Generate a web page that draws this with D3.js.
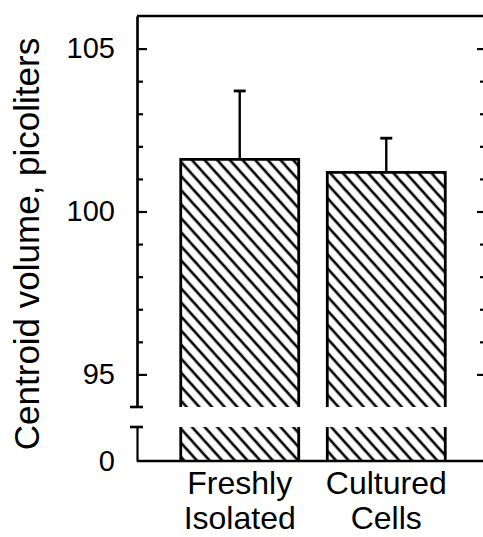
<!DOCTYPE html>
<html>
<head>
<meta charset="utf-8">
<script src="https://cdn.jsdelivr.net/npm/d3@7"></script>
<style>
  body { margin: 0; background: #fff; }
  svg { display: block; font-family: "Liberation Sans", Arial, Helvetica, sans-serif; }
  .axis path, .axis line { stroke: #000; stroke-width: 2.2; }
  .axis text { fill: #000; }
</style>
</head>
<body>
<svg id="chart" width="483" height="537"></svg>
<script>
// data
const groups = ["Freshly Isolated", "Cultured Cells"];
const groupLines = [["Freshly", "Isolated"], ["Cultured", "Cells"]];
const means = [101.6, 101.2];
const errors = [2.1, 1.05];
const majorTicks = [95, 100, 105];
const minorTicks = [96, 97, 98, 99, 101, 102, 103, 104];

const svg = d3.select("#chart");

// left axis sits at x=137, right one is just past the window edge
const axisX = 137, rightX = 486;
const topY = 16, breakTop = 407, breakBottom = 427, baseY = 461;

let x = d3.scaleBand()
    .domain(groups)
    .range([140, 486])
    .paddingInner(0.195)
    .paddingOuter(0.278);

// upper (broken) segment of the y axis
let y = d3.scaleLinear().domain([94, 106]).range([breakTop, topY]);
// lower segment, just the bit near zero
let y0 = d3.scaleLinear().domain([0, 1]).range([baseY, breakBottom]);

// hatch pattern
let defs = svg.append("defs");
let pat = defs.append("pattern")
    .attr("id", "hatch")
    .attr("patternUnits", "userSpaceOnUse")
    .attr("width", 9.4)
    .attr("height", 9.4)
    .attr("patternTransform", "rotate(48)");
pat.append("line")
    .attr("x1", 0).attr("y1", 2).attr("x2", 9.4).attr("y2", 2)
    .attr("stroke", "#000").attr("stroke-width", 2.6);

// bars, upper part
let bars = svg.append("g");
groups.forEach(function(g, i) {
    let x0 = x(g), w = x.bandwidth();
    let yt = y(means[i]);
    bars.append("rect")
        .attr("x", x0).attr("y", yt)
        .attr("width", w).attr("height", breakTop - yt)
        .attr("fill", "url(#hatch)");
    bars.append("path")
        .attr("d", `M${x0},${breakTop}V${yt}H${x0 + w}V${breakTop}`)
        .attr("fill", "none").attr("stroke", "#000").attr("stroke-width", 2.8);

    // lower part
    bars.append("rect")
        .attr("x", x0).attr("y", y0(1))
        .attr("width", w).attr("height", y0(0) - y0(1))
        .attr("fill", "url(#hatch)");
    bars.append("path")
        .attr("d", `M${x0},${y0(1)}V${y0(0)}M${x0 + w},${y0(1)}V${y0(0)}`)
        .attr("fill", "none").attr("stroke", "#000").attr("stroke-width", 2.8);

    // error bar (upper only)
    let cx = x0 + w / 2;
    let ye = y(means[i] + errors[i]);
    bars.append("line")
        .attr("x1", cx).attr("x2", cx).attr("y1", yt).attr("y2", ye)
        .attr("stroke", "#000").attr("stroke-width", 2.4);
    bars.append("line")
        .attr("x1", cx - 6).attr("x2", cx + 6).attr("y1", ye).attr("y2", ye)
        .attr("stroke", "#000").attr("stroke-width", 2.8);
});

// frame lines
svg.append("line")
    .attr("x1", axisX).attr("x2", 483).attr("y1", topY).attr("y2", topY)
    .attr("stroke", "#000").attr("stroke-width", 2.6);
svg.append("line")
    .attr("x1", axisX).attr("x2", 483).attr("y1", baseY).attr("y2", baseY)
    .attr("stroke", "#000").attr("stroke-width", 2.6);

// left axis, upper segment
svg.append("g")
    .attr("class", "axis")
    .attr("transform", `translate(${axisX},0)`)
    .call(d3.axisLeft(y).tickValues(minorTicks).tickSizeInner(-6).tickSizeOuter(0).tickFormat(""));
svg.append("g")
    .attr("class", "axis")
    .attr("transform", `translate(${axisX},0)`)
    .call(d3.axisLeft(y).tickValues(majorTicks).tickSizeInner(-10).tickSizeOuter(0).tickPadding(22))
    .call(g => g.selectAll("text").attr("font-size", 29));

// left axis, lower segment
svg.append("g")
    .attr("class", "axis")
    .attr("transform", `translate(${axisX},0)`)
    .call(d3.axisLeft(y0).tickValues([0]).tickSizeInner(0).tickSizeOuter(0).tickPadding(22).tickFormat(d3.format("d")))
    .call(g => g.selectAll("text").attr("font-size", 29));

// break caps on the left axis
[breakTop, breakBottom].forEach(function(yy) {
    svg.append("line")
        .attr("x1", axisX - 7).attr("x2", axisX + 6).attr("y1", yy).attr("y2", yy)
        .attr("stroke", "#000").attr("stroke-width", 2.6);
});

// right axis, mostly off the page, only the ticks show
svg.append("g")
    .attr("class", "axis")
    .attr("transform", `translate(${rightX},0)`)
    .call(d3.axisLeft(y).tickValues(minorTicks).tickSizeInner(6).tickSizeOuter(0).tickFormat(""));
svg.append("g")
    .attr("class", "axis")
    .attr("transform", `translate(${rightX},0)`)
    .call(d3.axisLeft(y).tickValues(majorTicks).tickSizeInner(9).tickSizeOuter(0).tickFormat(""));

// category labels
groups.forEach(function(g, i) {
    let t = svg.append("text")
        .attr("x", x(g) + x.bandwidth() / 2)
        .attr("text-anchor", "middle")
        .attr("font-size", 32)
        .attr("fill", "#000");
    groupLines[i].forEach(function(s, j) {
        t.append("tspan")
            .attr("x", x(g) + x.bandwidth() / 2)
            .attr("y", 494 + j * 35)
            .text(s);
    });
});

// y title
svg.append("text")
    .attr("transform", "translate(39,244) rotate(-90)")
    .attr("text-anchor", "middle")
    .attr("font-size", 35)
    .attr("fill", "#000")
    .text("Centroid volume, picoliters");
</script>
</body>
</html>
